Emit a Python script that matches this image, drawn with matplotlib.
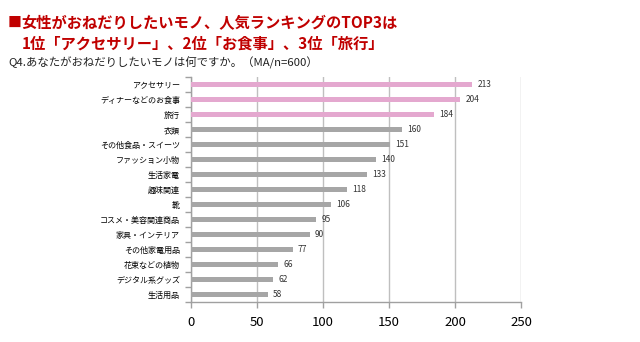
import numpy as np
import matplotlib
matplotlib.use("Agg")
from matplotlib import pyplot as plt

plt.rcParams["font.family"] = ["Noto Sans CJK JP", "DejaVu Sans"]

categories = ["アクセサリー", "ディナーなどのお食事", "旅行", "衣類", "その他食品・スイーツ",
              "ファッション小物", "生活家電", "趣味関連", "靴", "コスメ・美容関連商品",
              "家具・インテリア", "その他家電用品", "花束などの植物", "デジタル系グッズ", "生活用品"]
counts = [213, 204, 184, 160, 151, 140, 133, 118, 106, 95, 90, 77, 66, 62, 58]
top_n = 3
x_ticks = [0, 50, 100, 150, 200, 250]

pink = "#E4A8CF"
gray = "#A6A6A6"
red = "#C00000"

fig = plt.figure(figsize=(6.4, 3.42), dpi=100)
ax = fig.add_axes([0.2984, 0.117, 0.5156, 0.658])

y = np.arange(len(categories))
colors = [pink if i < top_n else gray for i in range(len(categories))]
ax.barh(y, counts, height=0.38, color=colors, zorder=3)
for yi, v in zip(y, counts):
  ax.text(v + 4, yi, str(v), va="center", ha="left", fontsize=6, color="#333333")

ax.set_xlim(0, 250)
ax.set_ylim(len(categories) - 0.5, -0.5)
ax.set_xticks(x_ticks)
ax.set_xticklabels([str(t) for t in x_ticks], fontsize=9.5)
ax.set_yticks(y)
ax.set_yticklabels(categories, fontsize=5.8)
ax.set_yticks(np.arange(len(categories) + 1) - 0.5, minor=True)
ax.tick_params(axis="y", which="major", length=0, pad=8)
ax.tick_params(axis="y", which="minor", length=4, color="#A0A0A0", width=1)
ax.tick_params(axis="x", length=4, color="#A0A0A0", width=1, pad=6)
ax.grid(axis="x", color="#BFBFBF", linewidth=1, zorder=0)
for s in ["top", "right"]:
  ax.spines[s].set_visible(False)
for s in ["left", "bottom"]:
  ax.spines[s].set_color("#A0A0A0")
  ax.spines[s].set_linewidth(1)

fig.text(0.0125, 0.933, "■", color=red, fontsize=10, va="center", ha="left")
fig.text(0.034, 0.933, "女性がおねだりしたいモノ、人気ランキングのTOP3は",
         color=red, fontsize=11, fontweight="bold", va="center", ha="left")
fig.text(0.034, 0.874, "1位「アクセサリー」、2位「お食事」、3位「旅行」",
         color=red, fontsize=11, fontweight="bold", va="center", ha="left")
fig.text(0.0125, 0.815, "Q4.あなたがおねだりしたいモノは何ですか。（MA/n=600）",
         color="#222222", fontsize=8.2, va="center", ha="left")

plt.savefig("out.png", dpi=100)
